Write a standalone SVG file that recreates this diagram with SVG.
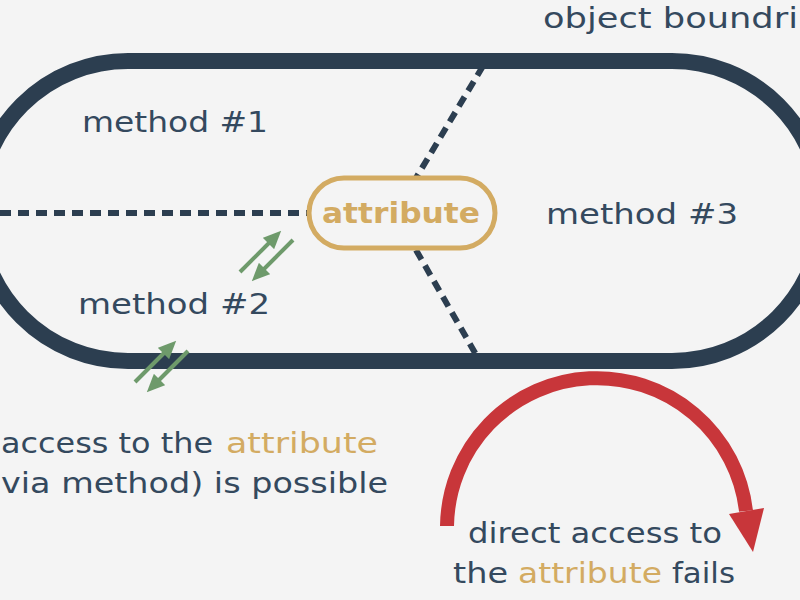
<svg xmlns="http://www.w3.org/2000/svg" width="800" height="600" viewBox="0 0 800 600">
<defs>
<style>
.t{font-family:"DejaVu Sans","Liberation Sans",sans-serif;font-size:28px;fill:#34495e;}
.g{fill:#d3ab62;}
.dash{stroke:#2c3e50;stroke-width:6;stroke-dasharray:11 7;fill:none;}
.grn{stroke:#6e9a6b;stroke-width:4;fill:none;marker-end:url(#gh);}
</style>
<marker id="gh" viewBox="0 0 18 16" markerWidth="18" markerHeight="16" refX="5" refY="8" orient="auto" markerUnits="userSpaceOnUse">
<path d="M0,0 L18,8 L0,16 z" fill="#6e9a6b"/>
</marker>
</defs>
<rect width="800" height="600" fill="#f4f4f4"/>
<g id="object-boundary">
<rect x="-22" y="61" width="844" height="300" rx="150" ry="150" fill="none" stroke="#2c3e50" stroke-width="16"/>
</g>
<g id="connectors">
<line class="dash" x1="0" y1="213" x2="309" y2="213"/>
<line class="dash" x1="483" y1="66" x2="416" y2="178"/>
<line class="dash" x1="416" y1="250" x2="478" y2="358"/>
<line class="grn" x1="240" y1="272" x2="272" y2="240"/>
<line class="grn" x1="293" y1="240" x2="261" y2="272"/>
<line class="grn" x1="135" y1="382" x2="167" y2="350"/>
<line class="grn" x1="188" y1="351" x2="156" y2="383"/>
<path d="M 447 526 A 150 150 0 0 1 746 511" fill="none" stroke="#c8363a" stroke-width="14"/>
<polygon points="729,514 764,508 753,552" fill="#c8363a"/>
</g>
<g id="attribute">
<rect x="309" y="178" width="186" height="70" rx="35" fill="#f4f4f4" stroke="#d3ab62" stroke-width="5"/>
<text x="322" y="223" class="t g" style="font-weight:bold;font-size:29px" textLength="158" lengthAdjust="spacingAndGlyphs">attribute</text>
</g>
<g id="method1"><text class="t" x="82" y="132" textLength="186" lengthAdjust="spacingAndGlyphs">method #1</text></g>
<g id="method2"><text class="t" x="78" y="314" textLength="192" lengthAdjust="spacingAndGlyphs">method #2</text></g>
<g id="method3"><text class="t" x="546" y="224" textLength="192" lengthAdjust="spacingAndGlyphs">method #3</text></g>
<g id="boundary-label"><text class="t" x="543" y="28" textLength="255" lengthAdjust="spacingAndGlyphs">object boundri</text></g>
<g id="possible-label">
<text class="t" y="453"><tspan x="1" textLength="212" lengthAdjust="spacingAndGlyphs">access to the</tspan><tspan x="226" class="g" textLength="152" lengthAdjust="spacingAndGlyphs">attribute</tspan></text>
<text class="t" x="1" y="493" textLength="387" lengthAdjust="spacingAndGlyphs">via method) is possible</text>
</g>
<g id="fails-label">
<text class="t" x="468" y="543" textLength="254" lengthAdjust="spacingAndGlyphs">direct access to</text>
<text class="t" y="583"><tspan x="453" textLength="55" lengthAdjust="spacingAndGlyphs">the</tspan><tspan x="518" class="g" textLength="144" lengthAdjust="spacingAndGlyphs">attribute</tspan><tspan x="672" textLength="63" lengthAdjust="spacingAndGlyphs">fails</tspan></text>
</g>
</svg>
